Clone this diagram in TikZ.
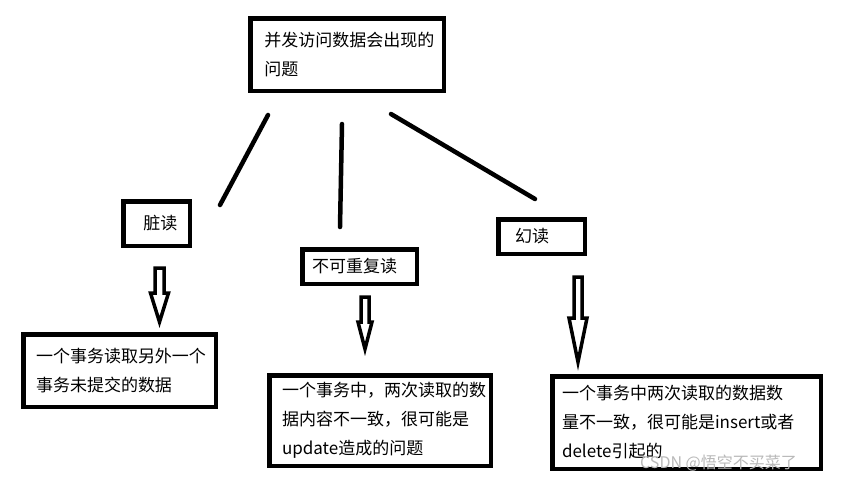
\documentclass[tikz,border=0pt]{standalone}
\usepackage{fontspec}
\newfontfamily\cjk{Noto Sans CJK SC}

\begin{document}
\begin{tikzpicture}[x=1pt, y=-1pt,
		box/.style={draw=black, line width=4.5pt, rectangle, align=left, inner ysep=0pt, font=\cjk\fontsize{17}{29}\selectfont},
		stroke/.style={line width=4.5pt, line cap=round},
		fatarrow/.style={line width=3.5pt, line join=miter}]
		\useasboundingbox[fill=white] (0,0) rectangle (844,483);
		
		\node[box, text width=165.5pt, inner xsep=14pt, minimum height=72.5pt] (problem) at (347,54.5) {并发访问数据会出现的\\问题};
		\node[box, text width=26.5pt, inner xsep=20pt, minimum height=44.5pt] (dirty) at (156.5,223.5) {脏读};
		\node[box, text width=95pt, inner xsep=9.75pt, minimum height=34.5pt] (nonrep) at (359.5,266.5) {不可重复读};
		\node[box, text width=53pt, inner xsep=16.75pt, minimum height=34.5pt] (phantom) at (541.5,236.5) {幻读};
		
		\node[box, text width=167pt, inner xsep=12.75pt, minimum height=72.5pt] (dirtyDesc) at (119.5,370.5) {一个事务读取另外一个\\事务未提交的数据};
		\node[box, text width=196pt, inner xsep=12.75pt, minimum height=90.5pt] (nonrepDesc) at (380,420.5) {一个事务中，两次读取的数\\据内容不一致，很可能是\\update造成的问题};
		\node[box, text width=249pt, inner xsep=9.75pt, minimum height=92.5pt] (phantomDesc) at (686.5,422.5) {一个事务中两次读取的数据数\\量不一致，很可能是insert或者\\delete引起的};
		
		\coordinate (l1s) at (268,115);
		\coordinate (l1e) at (220,205);
		\coordinate (l2s) at (342,124);
		\coordinate (l2e) at (340,227);
		\coordinate (l3s) at (391,114);
		\coordinate (l3e) at (535,199);
		\draw[stroke] (l1s) -- (l1e);
		\draw[stroke] (l2s) -- (l2e);
		\draw[stroke] (l3s) -- (l3e);
		
		\coordinate (a1) at (159.5,268);
		\coordinate (t1) at (159.5,322);
		\coordinate (a2) at (365,297);
		\coordinate (t2) at (365,349);
		\coordinate (a3) at (578,277);
		\coordinate (t3) at (578,362);
		\draw[fatarrow] (a1) ++(4.5,0) -- ++(0,25) -- ++(4.5,0) -- (t1) -- ++(-9,-29) -- ++(4.5,0) -- ++(0,-25) -- cycle;
		\draw[fatarrow] (a2) ++(4,0) -- ++(0,25) -- ++(3,0) -- (t2) -- ++(-7,-27) -- ++(3,0) -- ++(0,-25) -- cycle;
		\draw[fatarrow] (a3) ++(4,0) -- ++(0,41) -- ++(5,0) -- (t3) -- ++(-9,-44) -- ++(5,0) -- ++(0,-41) -- cycle;
		
		\node[anchor=west, inner sep=0pt, text=gray!55, font=\cjk\fontsize{16}{16}\selectfont] (mark) at (640,463) {CSDN @悟空不买菜了};
	\end{tikzpicture}
\end{document}
